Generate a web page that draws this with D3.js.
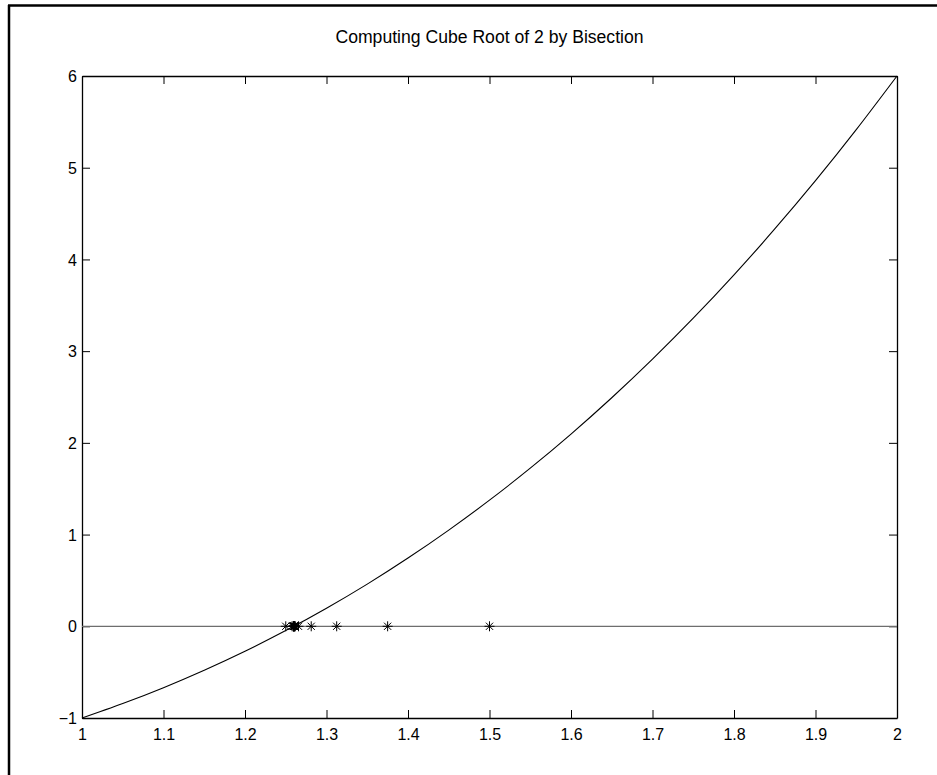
<!DOCTYPE html>
<html>
<head>
<meta charset="utf-8">
<script src="https://cdn.jsdelivr.net/npm/d3@7"></script>
<style>
  body { margin: 0; background: #fff; }
  svg { display: block; font-family: "Liberation Sans", Arial, sans-serif; }
</style>
</head>
<body>
<script>
// curve samples f(x) = x^3 - 2
var curveX = [1.00, 1.05, 1.10, 1.15, 1.20, 1.25, 1.30, 1.35, 1.40, 1.45, 1.50,
              1.55, 1.60, 1.65, 1.70, 1.75, 1.80, 1.85, 1.90, 1.95, 2.00];
var curveY = [-1.000, -0.842, -0.669, -0.479, -0.272, -0.047, 0.197, 0.460, 0.744, 1.049, 1.375,
              1.724, 2.096, 2.492, 2.913, 3.359, 3.832, 4.332, 4.859, 5.415, 6.000];

// bisection midpoints (plotted at y = 0)
var midX = [1.5, 1.25, 1.375, 1.3125, 1.28125, 1.265625, 1.2578125, 1.26171875,
            1.259765625, 1.2607421875, 1.26025390625, 1.260009765625, 1.2598876953125,
            1.25994873046875, 1.259918212890625, 1.2599334716796875, 1.2599258422851562];

var xTicks = [1, 1.1, 1.2, 1.3, 1.4, 1.5, 1.6, 1.7, 1.8, 1.9, 2];
var yTicks = [-1, 0, 1, 2, 3, 4, 5, 6];
var title = "Computing Cube Root of 2 by Bisection";

var W = 937, H = 775;
var margin = { top: 76, right: 40, bottom: 57, left: 82 };
var width = 897 - margin.left,
    height = 718 - margin.top;

var svg = d3.select("body").append("svg")
    .attr("width", W)
    .attr("height", H);

// outer figure frame (cropped at right/bottom)
svg.append("line").attr("x1", 9).attr("x2", 9).attr("y1", 5).attr("y2", H)
    .attr("stroke", "#000").attr("stroke-width", 2.5);
svg.append("line").attr("x1", 8).attr("x2", W).attr("y1", 5.5).attr("y2", 5.5)
    .attr("stroke", "#000").attr("stroke-width", 2.5);

var g = svg.append("g")
    .attr("transform", "translate(" + margin.left + "," + margin.top + ")");

var x = d3.scaleLinear().domain([1, 2]).range([0, width]);
var y = d3.scaleLinear().domain([-1, 6]).range([height, 0]);

var fmt = function (d) { return d3.format("")(d); };

// axes: ticks pointing inward, box all round
var axB = g.append("g").attr("transform", "translate(0," + height + ")")
    .call(d3.axisBottom(x).tickValues(xTicks).tickSizeInner(-8).tickSizeOuter(0).tickPadding(11).tickFormat(fmt));
var axT = g.append("g")
    .call(d3.axisTop(x).tickValues(xTicks).tickSizeInner(-8).tickSizeOuter(0).tickFormat(""));
var axL = g.append("g")
    .call(d3.axisLeft(y).tickValues(yTicks).tickSizeInner(-8).tickSizeOuter(0).tickPadding(5).tickFormat(fmt));
var axR = g.append("g").attr("transform", "translate(" + width + ",0)")
    .call(d3.axisRight(y).tickValues(yTicks).tickSizeInner(-8).tickSizeOuter(0).tickFormat(""));

[axB, axT, axL, axR].forEach(function (a) {
    a.select(".domain").attr("stroke", "#000").attr("stroke-width", 1.3);
    a.selectAll(".tick line").attr("stroke", "#000").attr("stroke-width", 1);
    a.selectAll("text").attr("font-size", 16).attr("fill", "#000")
        .attr("font-family", "Liberation Sans, Arial, sans-serif");
});
axB.selectAll("text").attr("dy", "0.71em");
axL.selectAll("text").attr("dy", "0.35em");

// zero line
g.append("line")
    .attr("x1", x(1)).attr("x2", x(2))
    .attr("y1", y(0)).attr("y2", y(0))
    .attr("stroke", "#6e6e6e").attr("stroke-width", 1.3);

// curve
var pts = curveX.map(function (d, i) { return [d, curveY[i]]; });
g.append("path")
    .datum(pts)
    .attr("fill", "none")
    .attr("stroke", "#000")
    .attr("stroke-width", 1.1)
    .attr("d", d3.line()
        .x(function (d) { return x(d[0]); })
        .y(function (d) { return y(d[1]); })
        .curve(d3.curveNatural));

// asterisk markers
var r = 5;
var star = g.selectAll(".star")
    .data(midX)
    .enter().append("path")
    .attr("class", "star")
    .attr("transform", function (d) { return "translate(" + x(d) + "," + y(0) + ")"; })
    .attr("fill", "none")
    .attr("stroke", "#000")
    .attr("stroke-width", 1)
    .attr("d", "M" + (-r) + ",0H" + r + "M0," + (-r) + "V" + r +
        "M" + (-r * 0.72) + "," + (-r * 0.72) + "L" + (r * 0.72) + "," + (r * 0.72) +
        "M" + (-r * 0.72) + "," + (r * 0.72) + "L" + (r * 0.72) + "," + (-r * 0.72));

// title
svg.append("text")
    .attr("x", margin.left + width / 2)
    .attr("y", 43)
    .attr("text-anchor", "middle")
    .attr("font-size", 17.6)
    .attr("fill", "#000")
    .text(title);
</script>
</body>
</html>
